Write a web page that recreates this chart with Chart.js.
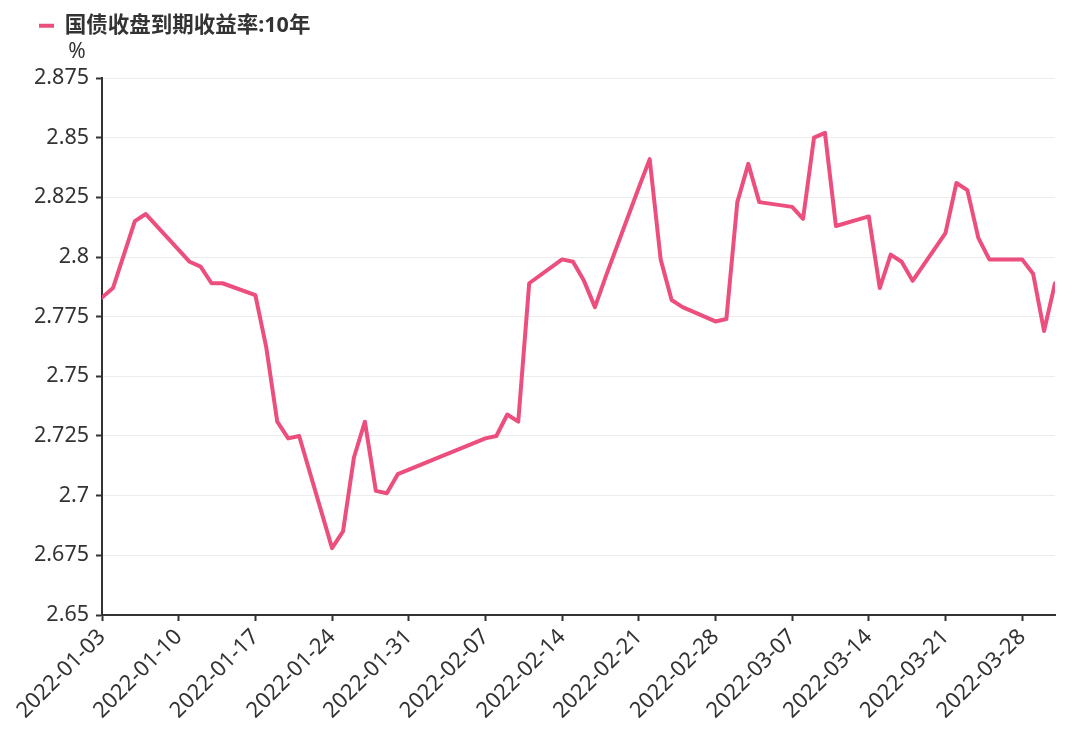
<!DOCTYPE html>
<html>
<head>
<meta charset="utf-8">
<script src="https://cdn.jsdelivr.net/npm/chart.js@4.4.0/dist/chart.umd.min.js"></script>
<style>
  html, body { margin: 0; padding: 0; background: #ffffff; }
  #wrap { width: 1080px; height: 753px; position: relative; }
</style>
</head>
<body>
<div id="wrap"><canvas id="c" width="1080" height="753"></canvas></div>
<script>
// ---------------- data ----------------
const seriesName = '国债收盘到期收益率:10年';
const unitLabel = '%';

const dates = [
  '2022-01-03','2022-01-04','2022-01-05','2022-01-06','2022-01-07',
  '2022-01-10','2022-01-11','2022-01-12','2022-01-13','2022-01-14',
  '2022-01-17','2022-01-18','2022-01-19','2022-01-20','2022-01-21',
  '2022-01-24','2022-01-25','2022-01-26','2022-01-27','2022-01-28',
  '2022-01-29','2022-01-30',
  '2022-02-07','2022-02-08','2022-02-09','2022-02-10','2022-02-11',
  '2022-02-14','2022-02-15','2022-02-16','2022-02-17','2022-02-18',
  '2022-02-21','2022-02-22','2022-02-23','2022-02-24','2022-02-25',
  '2022-02-28','2022-03-01','2022-03-02','2022-03-03','2022-03-04',
  '2022-03-07','2022-03-08','2022-03-09','2022-03-10','2022-03-11',
  '2022-03-14','2022-03-15','2022-03-16','2022-03-17','2022-03-18',
  '2022-03-21','2022-03-22','2022-03-23','2022-03-24','2022-03-25',
  '2022-03-28','2022-03-29','2022-03-30','2022-03-31'
];

const yields = [
  2.783, 2.787, 2.801, 2.815, 2.818,
  2.803, 2.798, 2.796, 2.789, 2.789,
  2.784, 2.762, 2.731, 2.724, 2.725,
  2.678, 2.685, 2.716, 2.731, 2.702,
  2.701, 2.709,
  2.724, 2.725, 2.734, 2.731, 2.789,
  2.799, 2.798, 2.790, 2.779, 2.792,
  2.829, 2.841, 2.799, 2.782, 2.779,
  2.773, 2.774, 2.823, 2.839, 2.823,
  2.821, 2.816, 2.850, 2.852, 2.813,
  2.817, 2.787, 2.801, 2.798, 2.790,
  2.810, 2.831, 2.828, 2.808, 2.799,
  2.799, 2.793, 2.769, 2.789
];

const xStart = '2022-01-03';
const xEnd = '2022-03-31';
const xTickEveryDays = 7;

const yMin = 2.65;
const yMax = 2.875;
const yStep = 0.025;

// ---------------- helpers ----------------
const DAY = 86400000;
const t0 = Date.parse(xStart + 'T00:00:00Z');
const dayIndex = d => Math.round((Date.parse(d + 'T00:00:00Z') - t0) / DAY);
const dayLabel = n => new Date(t0 + n * DAY).toISOString().slice(0, 10);

const lineColor = '#EC4F7E';
const textColor = '#333333';
const axisColor = '#333333';
const gridColor = '#ececec';
const fontFamily = "'Noto Sans', 'Noto Sans CJK SC', sans-serif";

const points = dates.map((d, i) => ({ x: dayIndex(d), y: yields[i] }));

const unitPlugin = {
  id: 'unitLabel',
  afterDraw(chart) {
    const { ctx, chartArea } = chart;
    ctx.save();
    ctx.fillStyle = textColor;
    ctx.font = '21px ' + fontFamily;
    ctx.textAlign = 'center';
    ctx.textBaseline = 'middle';
    ctx.fillText(unitLabel, chartArea.left - 25, chartArea.top - 26);
    ctx.restore();
  }
};

new Chart(document.getElementById('c').getContext('2d'), {
  type: 'line',
  data: {
    datasets: [{
      label: seriesName,
      data: points,
      borderColor: lineColor,
      backgroundColor: lineColor,
      borderWidth: 4,
      pointRadius: 0,
      pointHoverRadius: 0,
      tension: 0,
      fill: false,
      borderJoinStyle: 'round',
      borderCapStyle: 'round'
    }]
  },
  options: {
    responsive: false,
    animation: false,
    layout: { padding: { top: 5, left: 29, right: 25, bottom: 0 } },
    plugins: {
      legend: {
        display: true,
        position: 'top',
        align: 'start',
        weight: 3000,
        labels: {
          usePointStyle: true,
          pointStyle: 'line',
          pointStyleWidth: 15,
          padding: 10,
          color: textColor,
          font: { family: fontFamily, size: 21.5, weight: 'bold' }
        }
      },
      // empty spacer row between legend and plot (room for the unit label)
      title: {
        display: true,
        text: '',
        weight: 500,
        padding: 0,
        font: { family: fontFamily, size: 20, lineHeight: 1.575 }
      },
      tooltip: { enabled: false }
    },
    scales: {
      x: {
        type: 'linear',
        min: 0,
        max: dayIndex(xEnd),
        afterBuildTicks: s => { s.ticks = s.ticks.filter(t => t.value % xTickEveryDays === 0); },
        afterFit: s => { s.height = 138; },
        ticks: {
          stepSize: xTickEveryDays,
          includeBounds: false,
          autoSkip: false,
          minRotation: 45,
          maxRotation: 45,
          padding: 3,
          color: textColor,
          font: { family: fontFamily, size: 22 },
          callback: v => dayLabel(v)
        },
        grid: {
          drawOnChartArea: false,
          drawTicks: true,
          tickLength: 6,
          tickColor: axisColor,
          tickWidth: 2
        },
        border: { display: true, color: axisColor, width: 2 }
      },
      y: {
        type: 'linear',
        min: yMin,
        max: yMax,
        afterFit: s => { s.width = 73; },
        ticks: {
          stepSize: yStep,
          padding: 7,
          color: textColor,
          font: { family: fontFamily, size: 21.5 },
          callback: v => String(Math.round(v * 1000) / 1000)
        },
        grid: {
          color: gridColor,
          lineWidth: 1,
          tickColor: axisColor,
          tickLength: 6,
          tickWidth: 2
        },
        border: { display: true, color: axisColor, width: 2 }
      }
    }
  },
  plugins: [unitPlugin]
});
</script>
</body>
</html>
